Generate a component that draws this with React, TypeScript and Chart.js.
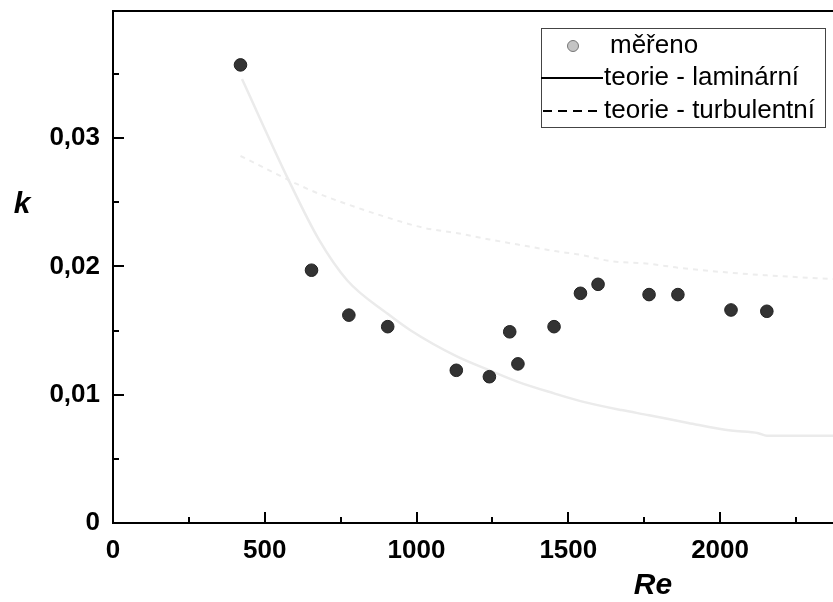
import React, { useEffect, useRef } from 'react';
import { Chart, registerables } from 'chart.js';

Chart.register(...registerables);

// Measured data
const reMeasured = [420, 654, 777, 905, 1131, 1240, 1307, 1334, 1453, 1540, 1598, 1766, 1861, 2036, 2154];
const kMeasured = [0.0357, 0.0197, 0.0162, 0.0153, 0.0119, 0.0114, 0.0149, 0.0124, 0.0153, 0.0179, 0.0186, 0.0178, 0.0178, 0.0166, 0.0165];

// Theory curves
const reLaminar = [425, 579, 678, 772, 905, 981, 1131, 1240, 1334, 1453, 1540, 1675, 1766, 1895, 2036, 2126, 2154, 2380];
const kLaminar = [0.0346, 0.0267, 0.0221, 0.0189, 0.0163, 0.0150, 0.0130, 0.0119, 0.0110, 0.0101, 0.0095, 0.0088, 0.0084, 0.0078, 0.0072, 0.0070, 0.0068, 0.0068];
const reTurbulent = [420, 654, 777, 905, 1024, 1131, 1240, 1334, 1453, 1540, 1642, 1766, 1861, 2036, 2154, 2380];
const kTurbulent = [0.0286, 0.0259, 0.0248, 0.0238, 0.0230, 0.0226, 0.0221, 0.0217, 0.0212, 0.0209, 0.0204, 0.0202, 0.0199, 0.0195, 0.0193, 0.0190];

// Axis settings
const xMin = 0;
const xMax = 2372;
const xTicks = [0, 500, 1000, 1500, 2000];
const xMinorStep = 250;
const yMin = 0;
const yMax = 0.0399;
const yTicks = [0, 0.01, 0.02, 0.03];
const yMinorStep = 0.005;

const legendLabels = ['měřeno', 'teorie - laminární', 'teorie - turbulentní'];
const xTitle = 'Re';
const yTitle = 'k';

const FONT = '"Liberation Sans", Arial, Helvetica, sans-serif';

const decorPlugin = {
  id: 'decor',
  afterDraw(chart: any) {
    const { ctx, chartArea, scales } = chart;
    const xs = scales.x;
    const ys = scales.y;
    ctx.save();
    ctx.strokeStyle = '#000';
    ctx.lineWidth = 2;
    // top border
    ctx.beginPath();
    ctx.moveTo(chartArea.left - 1, chartArea.top);
    ctx.lineTo(chartArea.right, chartArea.top);
    ctx.stroke();
    // x ticks (inward)
    for (let v = xMin + xMinorStep; v <= xMax + 1e-9; v += xMinorStep) {
      const major = xTicks.indexOf(v) >= 0;
      const px = Math.round(xs.getPixelForValue(v));
      ctx.beginPath();
      ctx.moveTo(px, chartArea.bottom);
      ctx.lineTo(px, chartArea.bottom - (major ? 11 : 6));
      ctx.stroke();
    }
    // y ticks (inward)
    for (let i = 1; yMin + i * yMinorStep <= yMax + 1e-9; i++) {
      const v = yMin + i * yMinorStep;
      const major = i % 2 === 0;
      const py = Math.round(ys.getPixelForValue(v));
      ctx.beginPath();
      ctx.moveTo(chartArea.left, py);
      ctx.lineTo(chartArea.left + (major ? 11 : 6), py);
      ctx.stroke();
    }
    // axis titles
    ctx.fillStyle = '#000';
    ctx.font = `italic bold 30px ${FONT}`;
    ctx.textAlign = 'center';
    ctx.textBaseline = 'middle';
    ctx.fillText(yTitle, chartArea.left - 91, chartArea.top + 194);
    ctx.fillText(xTitle, chartArea.left + 540, chartArea.bottom + 63);

    // legend
    const bx = chartArea.right - 292;
    const by = chartArea.top + 17;
    const bw = 284;
    const bh = 99;
    ctx.fillStyle = '#fff';
    ctx.fillRect(bx, by, bw, bh);
    ctx.strokeStyle = '#444';
    ctx.lineWidth = 1;
    ctx.strokeRect(bx + 0.5, by + 0.5, bw, bh);
    const rows = [by + 18, by + 50, by + 83];
    // marker
    ctx.beginPath();
    ctx.arc(bx + 32, rows[0], 5.5, 0, Math.PI * 2);
    ctx.fillStyle = '#c4c4c4';
    ctx.fill();
    ctx.strokeStyle = '#777';
    ctx.lineWidth = 1;
    ctx.stroke();
    // solid line
    ctx.strokeStyle = '#000';
    ctx.lineWidth = 2;
    ctx.setLineDash([]);
    ctx.beginPath();
    ctx.moveTo(bx, rows[1]);
    ctx.lineTo(bx + 62, rows[1]);
    ctx.stroke();
    // dashed line
    ctx.setLineDash([9, 6]);
    ctx.beginPath();
    ctx.moveTo(bx + 2, rows[2]);
    ctx.lineTo(bx + 62, rows[2]);
    ctx.stroke();
    ctx.setLineDash([]);
    ctx.fillStyle = '#000';
    ctx.font = `26px ${FONT}`;
    ctx.textAlign = 'left';
    ctx.textBaseline = 'middle';
    ctx.fillText(legendLabels[0], bx + 69, rows[0]);
    ctx.fillText(legendLabels[1], bx + 63, rows[1]);
    ctx.fillText(legendLabels[2], bx + 63, rows[2]);
    ctx.restore();
  },
};

export default function App() {
  const canvasRef = useRef<HTMLCanvasElement | null>(null);

  useEffect(() => {
    const canvas = canvasRef.current;
    if (!canvas) return;
    const zeroPad = (scale: any) => {
      scale.paddingTop = 0;
      scale.paddingBottom = 0;
      scale.paddingLeft = 0;
      scale.paddingRight = 0;
    };
    const chart = new Chart(canvas, {
      type: 'scatter',
      data: {
        datasets: [
          {
            label: legendLabels[0],
            data: reMeasured.map((x, i) => ({ x, y: kMeasured[i] })),
            backgroundColor: '#333333',
            borderColor: '#222222',
            borderWidth: 1,
            pointRadius: 6.3,
            showLine: false,
            order: 0,
          },
          {
            type: 'line',
            label: legendLabels[1],
            data: reLaminar.map((x, i) => ({ x, y: kLaminar[i] })),
            borderColor: '#ebebeb',
            borderWidth: 2.5,
            pointRadius: 0,
            cubicInterpolationMode: 'monotone',
            fill: false,
            order: 1,
          } as any,
          {
            type: 'line',
            label: legendLabels[2],
            data: reTurbulent.map((x, i) => ({ x, y: kTurbulent[i] })),
            borderColor: '#ededed',
            borderWidth: 2,
            borderDash: [5, 5],
            pointRadius: 0,
            cubicInterpolationMode: 'monotone',
            fill: false,
            order: 2,
          } as any,
        ],
      },
      options: {
        animation: false,
        responsive: false,
        layout: { autoPadding: false, padding: { top: 11, right: 0, left: 0, bottom: 0 } },
        plugins: {
          legend: { display: false },
          tooltip: { enabled: false },
        },
        scales: {
          x: {
            type: 'linear',
            min: xMin,
            max: xMax,
            grid: { display: false, drawTicks: false },
            border: { display: true, color: '#000', width: 2 },
            afterBuildTicks: (scale: any) => {
              scale.ticks = xTicks.map((value) => ({ value }));
            },
            ticks: {
              color: '#000',
              padding: 12,
              maxRotation: 0,
              autoSkip: false,
              font: { family: FONT, size: 26, weight: 'bold' },
              callback: (v: any) => String(v),
            },
            afterFit: (scale: any) => {
              scale.height = 79;
              zeroPad(scale);
            },
          },
          y: {
            type: 'linear',
            min: yMin,
            max: yMax,
            grid: { display: false, drawTicks: false },
            border: { display: true, color: '#000', width: 2 },
            afterBuildTicks: (scale: any) => {
              scale.ticks = yTicks.map((value) => ({ value }));
            },
            ticks: {
              color: '#000',
              padding: 13,
              autoSkip: false,
              font: { family: FONT, size: 26, weight: 'bold' },
              callback: (v: any) => (Number(v) === 0 ? '0' : Number(v).toFixed(2).replace('.', ',')),
            },
            afterFit: (scale: any) => {
              scale.width = 113;
              zeroPad(scale);
            },
          },
        },
      } as any,
      plugins: [decorPlugin],
    });
    return () => chart.destroy();
  }, []);

  return (
    <div style={{ position: 'fixed', left: 0, top: 0, width: 833, height: 602, background: '#fff' }}>
      <canvas ref={canvasRef} width={833} height={602} style={{ width: 833, height: 602, display: 'block' }} />
    </div>
  );
}
